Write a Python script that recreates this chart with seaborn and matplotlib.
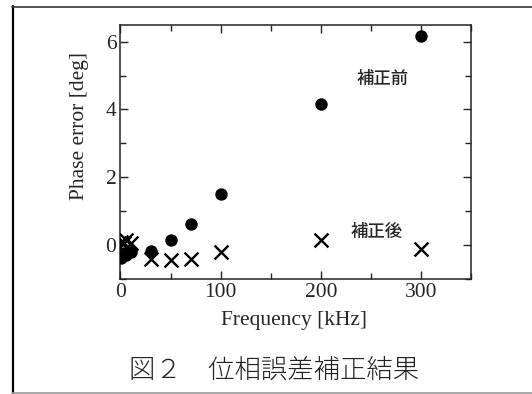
import numpy as np
import pandas as pd
import seaborn as sns
import matplotlib
matplotlib.use("Agg")
import matplotlib.pyplot as plt
from matplotlib.lines import Line2D
from matplotlib.ticker import MultipleLocator

# Data
freq_before = [1, 3, 5, 10, 30, 50, 70, 100, 200, 300]
err_before = [-0.38, -0.22, -0.3, -0.2, -0.17, 0.15, 0.62, 1.51, 4.16, 6.17]
freq_after = [1, 3, 5, 10, 30, 50, 70, 100, 200, 300]
err_after = [0.1, 0.05, 0.15, 0.05, -0.42, -0.44, -0.41, -0.2, 0.15, -0.13]
label_before = "補正前"
label_after = "補正後"
xlabel = "Frequency [kHz]"
ylabel = "Phase error [deg]"
caption = "図２　位相誤差補正結果"

df_b = pd.DataFrame({"f": freq_before, "e": err_before})
df_a = pd.DataFrame({"f": freq_after, "e": err_after})

sns.set_style("ticks")
plt.rcParams["font.family"] = ["Liberation Serif", "DejaVu Serif"]

fig = plt.figure(figsize=(5.32, 3.94), dpi=100)
ax = fig.add_axes([0.2265, 0.2919, 0.8853 - 0.2265, 0.9373 - 0.2919])

sns.scatterplot(data=df_b, x="f", y="e", ax=ax, marker="o", color="black",
                s=80, linewidth=0, zorder=3)
sns.scatterplot(data=df_a, x="f", y="e", ax=ax, marker="x", color="black",
                s=100, linewidth=1.7, zorder=3)

ax.set_xlim(0, 350)
ax.set_ylim(-1, 6.5)
ax.xaxis.set_major_locator(MultipleLocator(100))
ax.xaxis.set_minor_locator(MultipleLocator(50))
ax.yaxis.set_major_locator(MultipleLocator(2))
ax.yaxis.set_minor_locator(MultipleLocator(1))
ax.tick_params(which="both", direction="in", top=True, right=True,
               labelsize=15.5, width=1.0, color="#222222", pad=3)
ax.tick_params(which="major", length=6)
ax.tick_params(which="minor", length=4)
for sp in ax.spines.values():
    sp.set_linewidth(1.1)
    sp.set_color("#222222")

ax.set_xlabel(xlabel, fontsize=15.5)
ax.set_ylabel(ylabel, fontsize=15.5)
ax.xaxis.set_label_coords(0.495, -0.125)
ax.yaxis.set_label_coords(-0.09, 0.60)

cjk = ["Noto Sans CJK JP", "DejaVu Sans"]
ax.text(262, 4.9, label_before, family=cjk, fontsize=12.5, ha="center",
        va="center", fontweight="medium")
ax.text(256, 0.39, label_after, family=cjk, fontsize=12.5, ha="center",
        va="center", fontweight="medium")

fig.text(0.515, 0.062, caption, family=cjk, fontsize=19, ha="center",
         va="center", fontweight="light", color="#222222")

# outer frame
fig.add_artist(Line2D([13 / 532, 13 / 532], [1 - 6 / 394, 1 - 393 / 394],
                      transform=fig.transFigure, color="black", lw=1.6))
fig.add_artist(Line2D([12 / 532, 1.0], [1 - 6.5 / 394, 1 - 6.5 / 394],
                      transform=fig.transFigure, color="#333333", lw=1.2))
fig.add_artist(Line2D([12 / 532, 1.0], [1 - 392.5 / 394, 1 - 392.5 / 394],
                      transform=fig.transFigure, color="#999999", lw=1.2))

fig.savefig("out.png", dpi=100)
